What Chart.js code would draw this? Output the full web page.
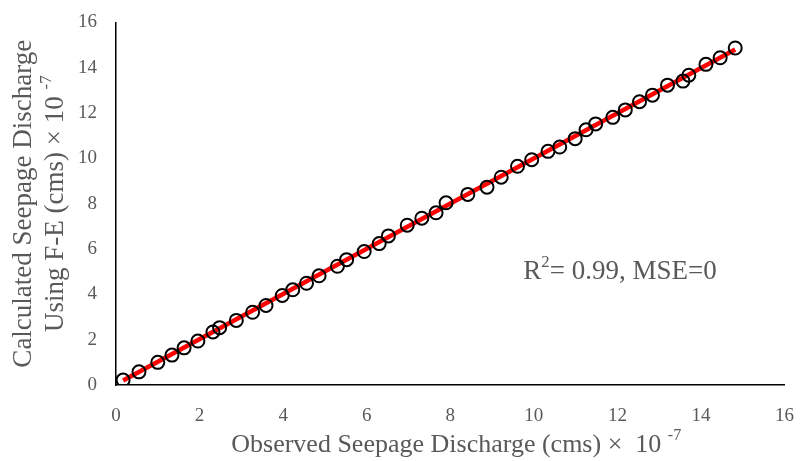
<!DOCTYPE html>
<html>
<head>
<meta charset="utf-8">
<script src="https://cdn.jsdelivr.net/npm/chart.js@4.4.1/dist/chart.umd.min.js"></script>
<style>
  html, body { margin: 0; padding: 0; background: #fff; }
  #wrap { width: 806px; height: 461px; }
</style>
</head>
<body>
<div id="wrap"><canvas id="myChart"></canvas></div>
<script>
// observed vs calculated seepage discharge (x 10^-7 cms)
const observed = [0.17, 0.55, 1.00, 1.34, 1.63, 1.96, 2.32, 2.48, 2.88, 3.27, 3.59, 3.98, 4.23, 4.56, 4.86,
    5.30, 5.52, 5.94, 6.30, 6.52, 6.97, 7.32, 7.66, 7.90, 8.42, 8.88, 9.22, 9.61, 9.95, 10.34,
    10.62, 10.99, 11.25, 11.48, 11.89, 12.19, 12.53, 12.84, 13.20, 13.57, 13.71, 14.12, 14.46, 14.82];
const calculated = [0.22, 0.58, 1.00, 1.32, 1.64, 1.94, 2.34, 2.53, 2.85, 3.21, 3.51, 3.95, 4.20, 4.49, 4.82,
    5.24, 5.53, 5.89, 6.24, 6.58, 7.05, 7.36, 7.60, 8.04, 8.41, 8.73, 9.17, 9.65, 9.94, 10.31,
    10.50, 10.87, 11.26, 11.52, 11.81, 12.14, 12.50, 12.79, 13.23, 13.41, 13.67, 14.15, 14.44, 14.87];
const trendX = [0.17, 14.82];
const trendY = [0.20, 14.80];
const xTicks = [0, 2, 4, 6, 8, 10, 12, 14, 16];
const yTicks = [0, 2, 4, 6, 8, 10, 12, 14, 16];

const grey = "#595959";
const serif = "'Liberation Serif', 'Times New Roman', serif";

// draws text pieces in a row, "sup" pieces raised and smaller
function richText(ctx, parts, cx, cy, size) {
    let total = 0;
    parts.forEach(p => {
        ctx.font = (p.sup ? size * 0.62 : size) + "px " + serif;
        p.w = ctx.measureText(p.t).width;
        total += p.w;
    });
    let x = cx - total / 2;
    parts.forEach(p => {
        ctx.font = (p.sup ? size * 0.62 : size) + "px " + serif;
        ctx.fillText(p.t, x, p.sup ? cy - size * 0.36 : cy);
        x += p.w;
    });
}

const labelsPlugin = {
    id: "labels",
    afterDraw(chart) {
        const ctx = chart.ctx;
        const area = chart.chartArea;
        ctx.save();
        ctx.fillStyle = grey;
        ctx.textBaseline = "middle";
        ctx.textAlign = "left";
        const midX = (area.left + area.right) / 2;
        richText(ctx, [{t: "Observed Seepage Discharge (cms) \u00d7  10 "}, {t: "-7", sup: true}], midX + 6, 445, 26);

        const midY = (area.top + area.bottom) / 2;
        ctx.translate(0, midY);
        ctx.rotate(-Math.PI / 2);
        richText(ctx, [{t: "Calculated Seepage Discharge"}], 0, 24, 27);
        richText(ctx, [{t: "Using F-E (cms) \u00d7 10 "}, {t: "-7", sup: true}], 0, 56, 27);
        ctx.restore();

        ctx.save();
        ctx.fillStyle = grey;
        ctx.textBaseline = "middle";
        ctx.textAlign = "left";
        richText(ctx, [{t: "R"}, {t: "2", sup: true}, {t: "= 0.99, MSE=0"}], 620, 272, 27);
        ctx.restore();
    }
};

const config = {
    type: "scatter",
    data: {
        datasets: [{
            label: "Calculated",
            data: observed.map((v, i) => ({x: v, y: calculated[i]})),
            pointStyle: "circle",
            pointRadius: 6.5,
            pointHoverRadius: 6.5,
            borderColor: "#000",
            borderWidth: 2,
            backgroundColor: "rgba(0,0,0,0)",
            order: 1
        }, {
            label: "Trend",
            type: "line",
            data: trendX.map((v, i) => ({x: v, y: trendY[i]})),
            borderColor: "#ff0000",
            borderWidth: 4.5,
            pointRadius: 0,
            fill: false,
            order: 2
        }]
    },
    options: {
        responsive: true,
        maintainAspectRatio: false,
        animation: false,
        layout: { padding: { top: 20, right: 12, left: 0, bottom: 0 } },
        plugins: {
            legend: { display: false },
            tooltip: { enabled: false }
        },
        scales: {
            x: {
                type: "linear",
                min: 0, max: 16,
                afterBuildTicks: s => { s.ticks = xTicks.map(v => ({value: v})); },
                afterFit: s => { s.height = 76; },
                grid: { display: false },
                border: { display: true, color: "#000", width: 1.5 },
                ticks: { color: grey, padding: 12, font: { family: serif, size: 19 } }
            },
            y: {
                type: "linear",
                min: 0, max: 16,
                afterBuildTicks: s => { s.ticks = yTicks.map(v => ({value: v})); },
                afterFit: s => { s.width = 116; },
                grid: { display: false },
                border: { display: true, color: "#000", width: 1.5 },
                ticks: { color: grey, padding: 11, font: { family: serif, size: 19 } }
            }
        }
    },
    plugins: [labelsPlugin]
};

new Chart("myChart", config);
</script>
</body>
</html>
